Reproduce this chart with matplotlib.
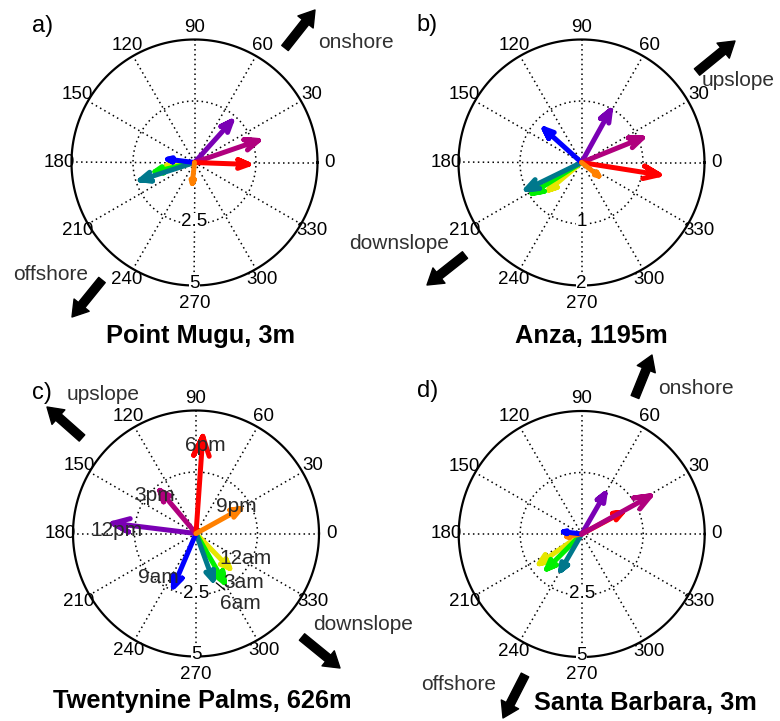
import numpy as np
import matplotlib
matplotlib.use("Agg")
import matplotlib.pyplot as plt
from matplotlib.patches import FancyArrowPatch

plt.rcParams['font.family'] = ['Liberation Sans', 'DejaVu Sans']

W, H = 780, 721

# Times of day and their arrow colours
hours = ['12am', '3am', '6am', '9am', '12pm', '3pm', '6pm', '9pm']
hour_colors = ['#e6e600', '#00f000', '#00788c', '#0000ff',
               '#7a00b4', '#b0007e', '#ff0000', '#ff8000']

# Mean wind speed (m/s) and direction (deg, math convention) per time of day
mugu_speed = [1.15, 1.65, 2.32, 1.10, 2.26, 2.75, 2.20, 0.86]
mugu_dir = [186, 193, 198, 173, 48, 19, 358, 264]

anza_speed = [0.70, 0.95, 1.00, 0.82, 0.97, 1.07, 1.28, 0.36]
anza_dir = [220, 212, 206, 138, 61, 22, 351, 322]

palms_speed = [1.98, 2.31, 2.02, 2.36, 3.41, 2.29, 3.96, 2.08]
palms_dir = [314, 300, 290, 247, 173, 130, 86, 29]

sb_speed = [2.11, 2.02, 1.72, 0.75, 1.90, 3.20, 1.88, 0.62]
sb_dir = [215, 225, 240, 173, 60, 29, 28, 190]

# Radial tick labels of each compass
mugu_rticks = [2.5, 5]
anza_rticks = [1, 2]
palms_rticks = [2.5, 5]
sb_rticks = [2.5, 5]

angle_ticks = list(range(0, 360, 30))

# Hour labels drawn next to the arrow tips in panel c (offsets in points)
palms_label_offsets = [(11, 7), (14, 0.5), (20, -16.5), (-11, 6.5),
                       (2.5, -5), (-3.5, -3.5), (2, -6.5), (-3, 1.5)]

fig = plt.figure(figsize=(W / 100, H / 100), dpi=100)


def px(x, y):
    return (x / W, 1 - y / H)


R_PX = 123.0
BOX = 160.0


def compass(cx, cy, speed, direction, rticks, hour_labels=None, offsets=None,
            order=None):
    rmax = rticks[-1]
    half = BOX / R_PX * rmax
    ax = fig.add_axes([(cx - BOX) / W, (H - cy - BOX) / H, 2 * BOX / W, 2 * BOX / H])
    ax.set_xlim(-half, half)
    ax.set_ylim(-half, half)
    ax.set_aspect('equal')
    ax.axis('off')

    dots = (0, (1, 2.2))
    t = np.linspace(0, 2 * np.pi, 361)
    # spokes
    for a in angle_ticks:
        ar = np.deg2rad(a)
        ax.plot([0, rmax * np.cos(ar)], [0, rmax * np.sin(ar)], color='k',
                lw=1.1, linestyle=dots, zorder=1)
    # inner rings
    for r in rticks[:-1]:
        ax.plot(r * np.cos(t), r * np.sin(t), color='k', lw=1.1,
                linestyle=dots, zorder=1)
    # outer circle
    ax.plot(rmax * np.cos(t), rmax * np.sin(t), color='k', lw=1.6, zorder=2)

    # radial labels
    lift = 2.0 / R_PX * rmax
    for r in rticks:
        lab = ('%g' % r)
        ax.text(0, -r + lift, lab, ha='center', va='center', fontsize=13.5,
                color='k', zorder=6,
                bbox=dict(facecolor='white', edgecolor='none', pad=0.2))
    # angle labels
    for a in angle_ticks:
        ar = np.deg2rad(a)
        rr = 1.145 if a == 270 else 1.1
        ax.text(rr * rmax * np.cos(ar), rr * rmax * np.sin(ar), str(a),
                ha='center', va='center', fontsize=13.5, color='k', zorder=7)

    # arrows: shaft plus two head strokes, like a compass plot
    idx = order if order is not None else range(len(speed))
    for z, i in enumerate(idx):
        s, d = speed[i], direction[i]
        ar = np.deg2rad(d)
        ca, sa = np.cos(ar), np.sin(ar)
        xs = np.array([0, 1, 0.8, 1, 0.8]) * s
        ys = np.array([0, 0, 0.08, 0, -0.08]) * s
        X = xs * ca - ys * sa
        Y = xs * sa + ys * ca
        ax.plot(X, Y, color=hour_colors[i], lw=3.6, solid_joinstyle='round',
                solid_capstyle='round', zorder=10 + z)

    if hour_labels is not None:
        for i, (s, d) in enumerate(zip(speed, direction)):
            ar = np.deg2rad(d)
            tip = (s * np.cos(ar), s * np.sin(ar))
            kw = {}
            if hour_labels[i] == '6am':
                kw['arrowprops'] = dict(arrowstyle='-', lw=0.9, color='k',
                                        shrinkA=1, shrinkB=3)
            ax.annotate(hour_labels[i], xy=tip, xytext=offsets[i],
                        textcoords='offset points', ha='center', va='center',
                        fontsize=15, color='#2a2a2a', zorder=30, **kw)
    return ax


compass(194.5, 162.5, mugu_speed, mugu_dir, mugu_rticks)
compass(581.5, 162.5, anza_speed, anza_dir, anza_rticks)
compass(196.0, 533.5, palms_speed, palms_dir, palms_rticks,
        hour_labels=hours, offsets=palms_label_offsets)
compass(581.7, 534.0, sb_speed, sb_dir, sb_rticks,
        order=[0, 1, 2, 7, 3, 4, 6, 5])


def fat_arrow(x0, y0, x1, y1):
    p = FancyArrowPatch(px(x0, y0), px(x1, y1), transform=fig.transFigure,
                        arrowstyle='simple,head_length=11,head_width=14,tail_width=6',
                        mutation_scale=1, color='black', shrinkA=0, shrinkB=0)
    fig.add_artist(p)


def ftext(x, y, s, **kw):
    fig.text(*px(x, y), s, **kw)


lab = dict(fontsize=15, color='#303030', va='center')
title = dict(fontsize=18.3, fontweight='bold', color='k', ha='center', va='center')
letter = dict(fontsize=17, color='k', ha='left', va='center')

# panel a
ftext(32, 26, 'a)', **letter)
fat_arrow(285, 48, 315, 10)
ftext(318, 43, 'onshore', ha='left', **lab)
fat_arrow(102, 280, 72, 317)
ftext(13, 274, 'offshore', ha='left', **lab)
ftext(201, 336, 'Point Mugu, 3m', **title)

# panel b
ftext(416, 25, 'b)', **letter)
fat_arrow(697, 72, 735, 41)
ftext(702, 81, 'upslope', ha='left', **lab)
fat_arrow(465, 255, 427, 285)
ftext(349, 243, 'downslope', ha='left', **lab)
ftext(591, 336, 'Anza, 1195m', **title)

# panel c
ftext(32, 393, 'c)', **letter)
fat_arrow(82, 438, 47, 407)
ftext(67, 394, 'upslope', ha='left', **lab)
fat_arrow(302, 637, 340, 668)
ftext(313, 625, 'downslope', ha='left', **lab)
ftext(202, 701, 'Twentynine Palms, 626m', **title)

# panel d
ftext(417, 391, 'd)', **letter)
fat_arrow(635, 397, 652, 355)
ftext(658, 388, 'onshore', ha='left', **lab)
fat_arrow(525, 675, 503, 718)
ftext(421, 685, 'offshore', ha='left', **lab)
ftext(645, 703, 'Santa Barbara, 3m', **title)

fig.savefig('out.png', dpi=100)
